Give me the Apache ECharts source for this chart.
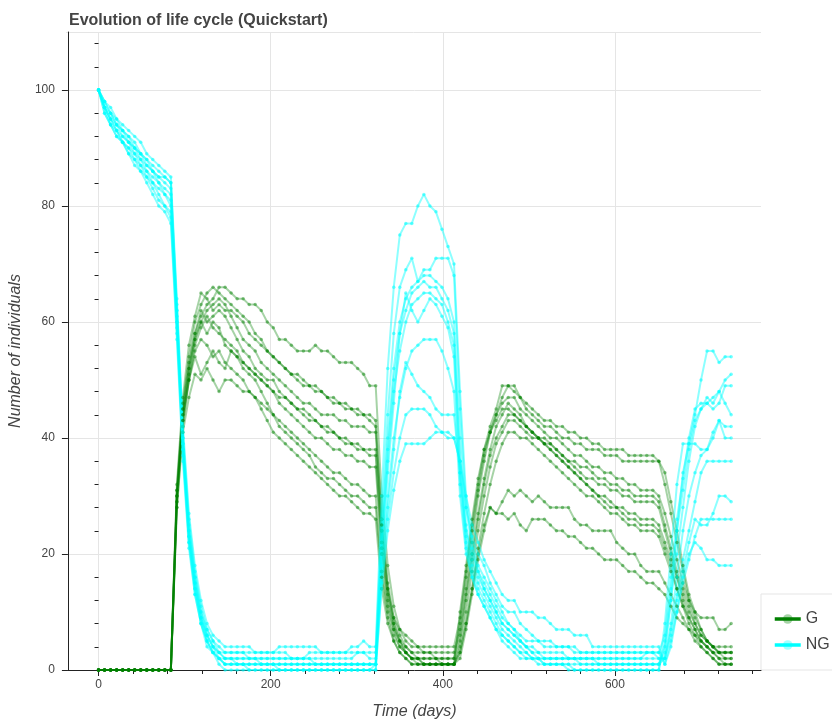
<!DOCTYPE html>
<html>
<head>
<meta charset="utf-8">
<title>Evolution of life cycle (Quickstart)</title>
<script src="https://cdn.jsdelivr.net/npm/echarts@6/dist/echarts.min.js"></script>
<style>
  html, body { margin: 0; padding: 0; background: #fff; }
  #chart { width: 832px; height: 726px; }
</style>
</head>
<body>
<div id="chart"></div>
<script>
// sampling days (weekly)
var days = [0,7,14,21,28,35,42,49,56,63,70,77,84,91,98,105,112,119,126,133,140,147,
  154,161,168,175,182,189,196,203,210,217,224,231,238,245,252,259,266,273,280,287,294,301,308,315,322,
  329,336,343,350,357,364,371,378,385,392,399,406,413,
  420,427,434,441,448,455,462,469,476,483,490,497,504,511,518,525,532,539,546,553,560,567,574,581,588,595,602,609,616,623,630,637,644,
  651,658,665,672,679,686,693,700,707,714,721,728,735];

// G runs (green)
var g1 = [0,0,0,0,0,0,0,0,0,0,0,0,0, 30,44,52,58,61,63,64,66,66,
  65,64,64,63,63,62,60,59,57,57,56,55,55,55,56,55,55,54,53,53,53,52,51,49,49,
  30,18,11,7,5,4,4,4,4,4,4,4,4,
  9,17,25,32,38,42,45,49,49,49,47,46,45,44,43,43,42,42,41,41,40,40,39,39,38,38,38,38,37,37,37,37,37,
  36,34,29,24,18,13,10,7,5,4,3,3,3];
var g2 = [0,0,0,0,0,0,0,0,0,0,0,0,0, 31,46,54,60,63,65,66,65,64,
  63,62,61,60,58,57,55,54,53,52,51,51,50,49,49,48,47,46,46,45,45,44,44,43,42,
  26,15,9,7,6,5,4,3,3,3,3,3,3,
  7,14,22,30,36,41,44,47,49,48,47,45,44,43,42,42,41,40,40,39,39,38,38,38,37,37,37,36,36,36,36,36,36,
  36,32,27,22,17,12,9,7,5,4,3,2,2];
var g3 = [0,0,0,0,0,0,0,0,0,0,0,0,0, 32,47,56,61,65,64,62,63,62,
  62,61,60,58,57,56,55,54,53,52,51,50,49,49,48,48,47,47,46,46,45,45,44,44,43,
  25,14,9,6,4,3,3,3,3,2,2,2,2,
  8,16,24,31,37,41,44,46,47,47,45,44,43,42,41,40,40,39,38,37,37,36,35,35,34,34,33,33,32,32,31,31,31,
  30,27,23,19,15,12,10,9,9,9,7,7,8];
var g4 = [0,0,0,0,0,0,0,0,0,0,0,0,0, 29,43,51,57,60,62,63,64,63,
  61,59,57,56,55,53,52,51,50,49,48,47,46,46,45,44,44,44,43,43,42,42,42,41,41,
  24,14,8,5,4,3,2,2,2,2,2,2,2,
  6,13,20,27,33,38,42,44,46,45,44,42,41,40,39,39,38,37,36,36,35,35,34,33,33,32,32,31,31,30,30,30,30,
  29,25,21,17,14,11,8,6,5,4,3,3,3];
var g5 = [0,0,0,0,0,0,0,0,0,0,0,0,0, 30,45,53,58,62,60,61,62,61,
  59,57,55,54,52,51,50,50,48,47,46,45,45,44,43,42,42,41,40,40,39,39,38,38,38,
  22,13,8,5,3,2,2,2,2,2,1,1,1,
  10,18,26,33,38,41,43,45,45,44,43,42,41,40,40,39,38,37,36,35,34,33,33,32,32,31,31,30,30,29,29,29,29,
  28,24,20,16,12,9,7,5,4,3,2,1,1];
var g6 = [0,0,0,0,0,0,0,0,0,0,0,0,0, 28,42,50,56,59,61,59,58,57,
  56,55,53,52,51,50,49,48,47,47,46,45,44,43,43,42,41,41,40,39,39,38,38,37,37,
  21,12,7,4,3,2,2,1,1,1,1,1,1,
  5,12,19,26,32,37,40,42,44,44,43,42,41,40,39,38,37,36,35,34,33,32,31,30,30,29,28,28,27,27,26,26,26,
  25,22,19,16,13,10,8,6,5,4,4,4,4];
var g7 = [0,0,0,0,0,0,0,0,0,0,0,0,0, 31,45,52,57,60,58,60,59,56,
  55,54,53,52,51,50,49,48,46,45,44,43,42,41,40,40,39,38,38,37,37,36,36,35,35,
  20,11,7,5,3,2,1,1,1,1,1,1,1,
  4,10,17,24,30,35,39,41,43,43,42,41,40,40,39,38,37,36,35,34,33,32,31,30,29,28,28,27,26,26,25,25,25,
  24,21,18,14,11,9,7,5,4,3,2,2,2];
var g8 = [0,0,0,0,0,0,0,0,0,0,0,0,0, 29,43,50,55,57,56,54,55,53,
  52,51,50,48,47,46,45,44,43,42,41,40,39,38,37,36,35,34,34,33,32,32,31,30,30,
  17,10,6,4,3,2,2,1,1,1,1,1,1,
  3,8,14,21,27,32,36,39,41,41,40,40,39,38,37,36,35,34,33,32,31,30,30,29,28,27,27,26,25,25,24,24,24,
  23,20,17,14,11,8,6,4,3,2,1,1,1];
var g9 = [0,0,0,0,0,0,0,0,0,0,0,0,0, 30,44,50,54,51,53,55,53,52,
  55,54,52,51,50,48,46,44,42,41,40,39,38,37,35,34,33,33,32,31,30,30,29,28,28,
  16,9,5,3,2,1,1,1,1,1,1,1,1,
  3,8,14,20,25,28,27,29,31,30,31,30,29,30,29,28,28,28,28,26,25,25,24,24,24,24,22,21,20,20,18,17,17,
  17,15,13,11,9,7,6,5,4,3,3,3,3];
var g10 = [0,0,0,0,0,0,0,0,0,0,0,0,0, 28,41,47,51,50,52,50,48,50,
  50,49,48,48,47,45,43,41,40,39,38,37,36,35,34,33,32,31,30,30,29,28,27,27,26,
  14,8,5,3,2,1,1,1,1,1,1,1,1,
  2,7,13,19,24,28,27,27,26,27,25,24,26,26,26,25,24,24,23,23,22,21,21,20,19,19,19,18,17,17,16,15,15,
  14,13,11,9,8,7,5,4,3,2,1,1,1];

// NG runs (cyan)
var ng1 = [100,98,96,95,94,93,92,91,89,88,87,86,85, 64,42,27,18,12,8,6,5,4,
  4,4,4,4,3,3,3,3,4,4,4,4,4,4,4,3,3,3,3,3,4,4,5,4,4,
  30,52,66,75,77,77,80,82,80,79,76,73,70,48,30,22,18,16,14,12,10,8,
  7,5,4,3,2,1,1,1,1,0,0,0,0,0,0,0,0,0,0,0,0,0,0,0,0,
  8,20,32,39,39,44,50,55,55,53,54,54];
var ng2 = [100,97,96,94,93,92,91,89,88,87,86,85,84, 63,41,26,17,11,7,5,4,3,
  3,3,3,3,3,3,3,3,3,3,2,2,2,3,3,3,3,3,3,3,3,3,3,3,3,
  26,44,58,66,69,71,67,69,69,71,71,71,68,45,28,21,17,15,13,11,9,8,
  7,6,5,5,5,4,4,4,4,4,3,3,3,3,3,3,3,3,3,3,3,3,3,3,3,
  6,16,26,33,40,45,46,46,47,48,50,51];
var ng3 = [100,98,97,95,93,92,90,89,88,86,85,85,84, 62,40,25,16,10,7,5,3,3,
  3,3,3,2,2,2,2,2,2,2,2,2,2,2,2,2,2,2,2,2,2,3,3,2,2,
  24,40,52,60,64,66,67,68,68,67,66,64,60,40,25,19,16,14,12,10,8,7,
  6,5,4,3,3,2,2,2,2,2,2,2,2,2,1,1,1,1,1,1,1,1,1,1,1,
  4,12,20,28,36,42,45,46,45,46,49,49];
var ng4 = [100,97,95,94,93,91,90,89,87,86,85,84,83, 62,40,24,16,10,6,4,3,2,
  2,2,2,2,2,2,2,2,2,2,2,2,2,2,1,1,1,1,1,1,1,1,1,1,1,
  22,38,50,58,62,65,66,67,66,66,64,62,58,36,23,18,15,13,11,9,7,6,
  5,4,3,2,2,1,1,1,1,1,0,0,0,0,0,0,0,0,0,0,0,0,0,0,0,
  5,14,24,31,38,43,45,47,46,48,46,44];
var ng5 = [100,98,96,94,92,91,90,88,87,86,84,83,82, 61,39,24,15,9,6,4,3,2,
  2,2,2,2,2,1,1,1,1,1,1,1,1,1,1,1,1,1,1,1,1,1,1,1,1,
  21,36,48,55,60,63,64,65,65,64,63,60,56,34,22,17,14,12,10,8,6,5,
  4,3,2,2,1,1,1,1,1,1,1,1,1,1,1,1,1,1,1,1,1,1,1,1,1,
  3,12,24,34,39,39,38,38,40,43,42,42];
var ng6 = [100,97,95,93,92,91,89,88,86,85,84,82,81, 60,39,23,15,9,6,4,2,2,
  2,1,1,1,1,1,1,1,1,1,1,1,1,1,1,1,1,1,1,1,1,1,1,1,1,
  20,34,46,58,65,62,60,62,64,63,61,59,54,32,21,16,13,11,9,7,6,5,
  4,3,3,2,2,2,2,2,2,2,2,1,1,1,1,1,1,1,1,1,1,1,1,1,1,
  2,8,16,24,30,34,37,38,41,43,40,40];
var ng7 = [100,96,94,93,91,90,89,87,86,84,83,82,80, 60,38,23,14,9,5,3,2,1,
  1,1,1,1,1,1,1,1,1,1,1,1,1,1,1,1,1,1,1,1,1,1,1,1,1,
  18,30,40,47,52,55,56,57,57,57,55,52,48,30,20,16,13,11,9,7,5,4,
  3,2,2,2,2,2,2,2,2,2,2,2,2,2,2,2,2,2,2,2,2,2,2,2,2,
  2,7,13,19,24,29,34,36,36,36,36,36];
var ng8 = [100,97,95,93,91,89,88,87,85,84,82,80,79, 59,38,22,14,8,5,3,2,1,
  1,1,1,1,1,1,1,1,0,0,0,0,0,0,0,0,0,0,0,0,0,0,0,0,1,
  17,28,38,48,53,51,49,48,47,45,44,44,44,34,24,20,17,14,12,10,8,7,
  6,5,4,4,3,3,3,3,3,2,2,2,2,2,2,2,2,2,2,2,2,2,3,3,2,
  2,6,12,17,22,26,25,25,27,30,30,29];
var ng9 = [100,96,94,92,91,89,87,86,85,83,81,80,78, 58,37,22,13,8,4,3,2,1,
  1,1,1,0,0,0,0,0,0,0,0,0,0,0,0,0,0,0,0,0,0,0,0,0,0,
  15,26,34,40,44,45,45,45,44,42,41,40,40,36,28,23,20,18,15,13,11,10,
  10,8,7,6,5,5,5,4,4,4,4,3,3,3,3,3,3,3,3,3,3,3,3,3,3,
  1,5,10,15,19,23,26,26,26,26,26,26];
var ng10 = [100,97,94,92,91,90,88,86,84,82,80,79,77, 57,36,21,13,8,5,3,1,0,
  0,0,0,0,0,0,0,0,0,0,0,0,0,0,0,0,0,0,0,0,0,0,0,0,0,
  14,24,31,36,39,39,39,39,40,41,41,41,40,36,30,25,22,19,17,15,13,12,
  12,10,10,10,9,9,8,7,7,7,6,6,6,4,4,4,4,4,4,4,4,4,4,4,4,
  1,4,10,16,20,22,21,19,19,18,18,18];

var xMajor = [0, 200, 400, 600];
var xMinor = [40,80,120,160,240,280,320,360,440,480,520,560,640,680,720,760];
var yMajor = [0, 20, 40, 60, 80, 100];
var yMinor = [4,8,12,16,24,28,32,36,44,48,52,56,64,68,72,76,84,88,92,96,104,108];

var gRuns = [g1, g2, g3, g4, g5, g6, g7, g8, g9, g10];
var ngRuns = [ng1, ng2, ng3, ng4, ng5, ng6, ng7, ng8, ng9, ng10];

var FONT = 'Liberation Sans, Helvetica, Arial, sans-serif';
var TEXT = '#444';
var AXIS = '#222';

function runSeries(name, color, values, lineAlpha, dotAlpha) {
    return {
        name: name,
        type: 'line',
        data: days.map(function (d, i) { return [d, values[i]]; }),
        symbol: 'circle',
        symbolSize: 3.5,
        showSymbol: true,
        lineStyle: { color: color, width: 2, opacity: lineAlpha },
        itemStyle: { color: color, opacity: dotAlpha },
        emphasis: { disabled: true },
        silent: true
    };
}

var series = gRuns.map(function (v) { return runSeries('G', '#008000', v, 0.35, 0.45); })
    .concat(ngRuns.map(function (v) { return runSeries('NG', '#00ffff', v, 0.45, 0.55); }));

var chart = echarts.init(document.getElementById('chart'));
var option = {
    animation: false,
    backgroundColor: '#fff',
    title: {
        text: 'Evolution of life cycle (Quickstart)',
        left: 64,
        top: 8,
        textStyle: { fontFamily: FONT, fontSize: 16, fontWeight: 'bold', color: TEXT }
    },
    grid: { left: 66, top: 32, width: 695, height: 638, containLabel: false },
    legend: {
        data: ['G', 'NG'],
        orient: 'vertical',
        left: 773,
        top: 611,
        padding: 0,
        itemWidth: 26,
        itemHeight: 12,
        itemGap: 10,
        textStyle: { fontFamily: FONT, fontSize: 16, color: TEXT },
        lineStyle: { width: 3.5, opacity: 1 },
        itemStyle: { opacity: 0.35 }
    },
    graphic: [{
        type: 'rect',
        shape: { x: 761, y: 594, width: 80, height: 76 },
        style: { fill: null, stroke: '#e5e5e5', lineWidth: 1 },
        silent: true
    }, {
        type: 'line',
        shape: { x1: 66, y1: 32.5, x2: 761, y2: 32.5 },
        style: { stroke: '#e5e5e5', lineWidth: 1 },
        silent: true
    }],
    xAxis: [{
        type: 'value',
        min: -35.6,
        max: 769.7,
        name: 'Time (days)',
        nameLocation: 'middle',
        nameGap: 34,
        nameTextStyle: { fontFamily: FONT, fontSize: 16, fontStyle: 'italic', color: TEXT },
        axisLine: { show: true, onZero: false, lineStyle: { color: AXIS, width: 1 } },
        axisTick: { show: true, length: 6, customValues: xMajor, lineStyle: { color: AXIS } },
        axisLabel: { customValues: xMajor, margin: 9, fontFamily: FONT, fontSize: 12, color: TEXT },
        splitLine: { show: true, lineStyle: { color: '#e5e5e5', width: 1 } }
    }, {
        type: 'value',
        min: -35.6,
        max: 769.7,
        position: 'bottom',
        axisLine: { show: false },
        axisTick: { show: true, length: 4, customValues: xMinor, lineStyle: { color: AXIS } },
        axisLabel: { show: false },
        splitLine: { show: false }
    }],
    yAxis: [{
        type: 'value',
        min: 0,
        max: 110,
        name: 'Number of individuals',
        nameLocation: 'middle',
        nameGap: 40,
        nameTextStyle: { fontFamily: FONT, fontSize: 16, fontStyle: 'italic', color: TEXT },
        axisLine: { show: true, onZero: false, lineStyle: { color: AXIS, width: 1 } },
        axisTick: { show: true, length: 6, customValues: yMajor, lineStyle: { color: AXIS } },
        axisLabel: { customValues: yMajor, margin: 13, fontFamily: FONT, fontSize: 12, color: TEXT },
        splitLine: { show: true, lineStyle: { color: '#e5e5e5', width: 1 } }
    }, {
        type: 'value',
        min: 0,
        max: 110,
        position: 'left',
        axisLine: { show: false },
        axisTick: { show: true, length: 4, customValues: yMinor, lineStyle: { color: AXIS } },
        axisLabel: { show: false },
        splitLine: { show: false }
    }],
    series: series
};
chart.setOption(option);
</script>
</body>
</html>
